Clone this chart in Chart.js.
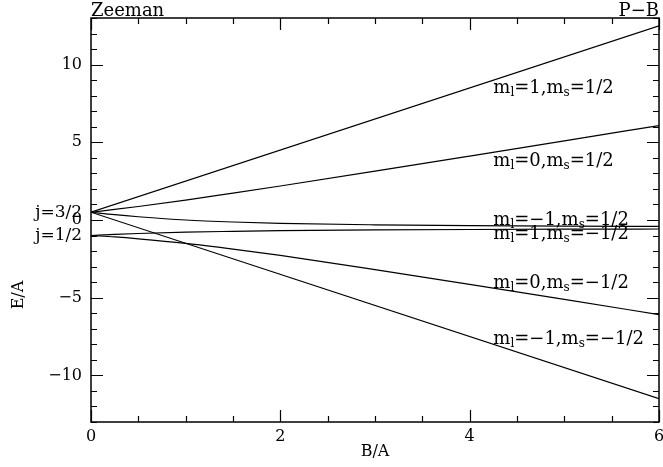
<!DOCTYPE html>
<html>
<head>
<meta charset="utf-8">
<script src="https://cdn.jsdelivr.net/npm/chart.js@4/dist/chart.umd.min.js"></script>
<style>
  html, body { margin: 0; padding: 0; background: #fff; }
  #wrap { width: 663px; height: 467px; }
</style>
</head>
<body>
<div id="wrap"><canvas id="chart1" width="663" height="467"></canvas></div>
<script>
// field B/A values
var bStraight = [0, 6];
var bCurve = [0, 0.25, 0.5, 1, 1.5, 2, 3, 4, 5, 6];

var eMl1Up = [0.5, 12.5];        // m_l=1, m_s=1/2
var eMlm1Dn = [0.5, -11.5];      // m_l=-1, m_s=-1/2
var eMl0Up = [0.5, 0.68, 0.87, 1.28, 1.73, 2.19, 3.14, 4.11, 5.09, 6.08];
var eMl1Dn = [-1, -0.93, -0.87, -0.78, -0.73, -0.69, -0.64, -0.61, -0.59, -0.58];
var eMlm1Up = [0.5, 0.34, 0.21, 0.0, -0.13, -0.22, -0.31, -0.36, -0.39, -0.41];
var eMl0Dn = [-1, -1.09, -1.21, -1.5, -1.87, -2.28, -3.19, -4.14, -5.11, -6.09];

// level labels (text parts: [string, isSubscript]) and where they sit
var lineLabels = [
    [[['m',0],['l',1],['=1,',0],['m',0],['s',1],['=1/2',0]], 4.25, 8.2],
    [[['m',0],['l',1],['=0,',0],['m',0],['s',1],['=1/2',0]], 4.25, 3.5],
    [[['m',0],['l',1],['=\u22121,',0],['m',0],['s',1],['=1/2',0]], 4.25, -0.3],
    [[['m',0],['l',1],['=1,',0],['m',0],['s',1],['=\u22121/2',0]], 4.25, -1.25],
    [[['m',0],['l',1],['=0,',0],['m',0],['s',1],['=\u22121/2',0]], 4.25, -4.35],
    [[['m',0],['l',1],['=\u22121,',0],['m',0],['s',1],['=\u22121/2',0]], 4.25, -7.95]
];
var jLabels = ['j=3/2', 'j=1/2'];
var jValues = [0.5, -1];

var serif = '"DejaVu Serif", serif';

function pts(xs, ys) {
    return xs.map(function (x, i) { return {x: x, y: ys[i]}; });
}

function ds(xs, ys, curved) {
    return {
        data: pts(xs, ys),
        borderColor: '#000',
        borderWidth: 1.2,
        pointRadius: 0,
        fill: false,
        cubicInterpolationMode: curved ? 'monotone' : 'default'
    };
}

var frame = {
    id: 'frame',
    afterDraw: function (chart) {
        var c = chart.ctx, a = chart.chartArea;
        var sx = chart.scales.x, sy = chart.scales.y;
        c.save();
        c.strokeStyle = '#000';
        c.lineWidth = 1.5;
        c.strokeRect(a.left, a.top, a.right - a.left, a.bottom - a.top);

        c.lineWidth = 1.2;
        c.beginPath();
        sx.ticks.forEach(function (t) {
            var px = Math.round(sx.getPixelForValue(t.value)) + 0.5;
            var len = (Math.abs(t.value % 2) < 1e-6) ? 12 : 6;
            c.moveTo(px, a.bottom); c.lineTo(px, a.bottom - len);
            c.moveTo(px, a.top); c.lineTo(px, a.top + len);
        });
        sy.ticks.forEach(function (t) {
            var py = Math.round(sy.getPixelForValue(t.value)) + 0.5;
            var len = (Math.abs(t.value % 5) < 1e-6) ? 12 : 6;
            c.moveTo(a.left, py); c.lineTo(a.left + len, py);
            c.moveTo(a.right, py); c.lineTo(a.right - len, py);
        });
        c.stroke();

        c.fillStyle = '#000';
        // corner titles
        c.font = '18px ' + serif;
        c.textBaseline = 'alphabetic';
        c.textAlign = 'left';
        c.fillText('Zeeman', a.left, a.top - 2);
        c.textAlign = 'right';
        c.fillText('P\u2212B', a.right, a.top - 2);

        // axis titles
        c.font = '16px ' + serif;
        c.textAlign = 'center';
        c.textBaseline = 'middle';
        c.fillText('B/A', (a.left + a.right) / 2, 452);
        c.save();
        c.translate(19, 295);
        c.rotate(-Math.PI / 2);
        c.fillText('E/A', 0, 0);
        c.restore();

        // j labels at B=0
        c.font = '17px ' + serif;
        c.textAlign = 'right';
        jLabels.forEach(function (s, i) {
            c.fillText(s, a.left - 9, sy.getPixelForValue(jValues[i]));
        });

        // level labels with subscripts
        c.textAlign = 'left';
        c.textBaseline = 'alphabetic';
        lineLabels.forEach(function (lb) {
            var x = sx.getPixelForValue(lb[1]);
            var y = sy.getPixelForValue(lb[2]);
            lb[0].forEach(function (p) {
                c.font = (p[1] ? '12px ' : '18px ') + serif;
                c.fillText(p[0], x, y + (p[1] ? 3 : 0));
                x += c.measureText(p[0]).width;
            });
        });
        c.restore();
    }
};

var ctx1 = document.getElementById('chart1').getContext('2d');
var chart1 = new Chart(ctx1, {
    type: 'line',
    data: {
        datasets: [
            ds(bStraight, eMl1Up, false),
            ds(bStraight, eMlm1Dn, false),
            ds(bCurve, eMl0Up, true),
            ds(bCurve, eMl1Dn, true),
            ds(bCurve, eMlm1Up, true),
            ds(bCurve, eMl0Dn, true)
        ]
    },
    options: {
        responsive: false,
        animation: false,
        events: [],
        layout: { padding: { top: 18, right: 4, left: 0, bottom: 0 } },
        plugins: { legend: { display: false }, tooltip: { enabled: false } },
        scales: {
            x: {
                type: 'linear',
                min: 0, max: 6,
                grid: { display: false, drawTicks: false },
                border: { display: false },
                ticks: {
                    stepSize: 0.5,
                    autoSkip: false,
                    maxRotation: 0,
                    padding: 5,
                    color: '#000',
                    font: { family: serif, size: 16 },
                    callback: function (v) { return (v % 2 === 0) ? String(v) : ''; }
                },
                afterFit: function (s) { s.height = 45; s.paddingLeft = 0; s.paddingRight = 0; }
            },
            y: {
                min: -13, max: 13,
                grid: { display: false, drawTicks: false },
                border: { display: false },
                ticks: {
                    stepSize: 1,
                    autoSkip: false,
                    padding: 9,
                    color: '#000',
                    font: { family: serif, size: 16 },
                    callback: function (v) {
                        if (v % 5 !== 0) return '';
                        return v < 0 ? '\u2212' + (-v) : String(v);
                    }
                },
                afterFit: function (s) { s.width = 91; s.paddingTop = 0; s.paddingBottom = 0; }
            }
        }
    },
    plugins: [frame]
});
</script>
</body>
</html>
